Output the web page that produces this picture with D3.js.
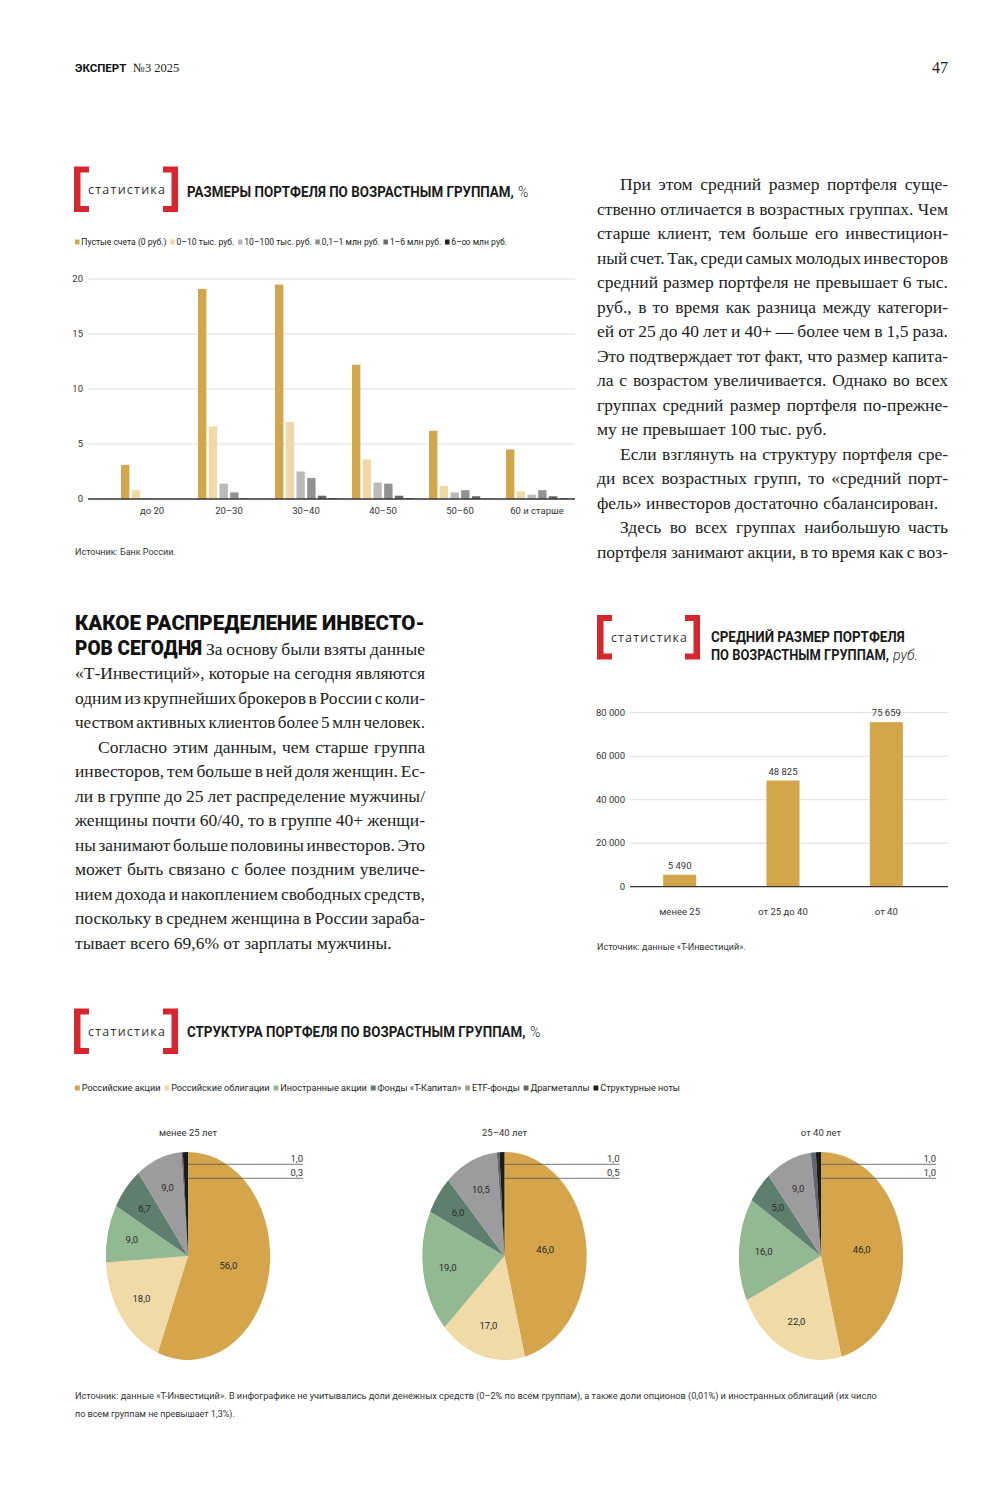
<!DOCTYPE html>
<html><head><meta charset="utf-8">
<script src="https://cdn.jsdelivr.net/npm/d3@7"></script>
<style>
body{margin:0;background:#fff;}
svg{display:block;background:#fff;}
</style></head><body>
<svg id="page" width="1000" height="1500"></svg>
<script>
// ---------- DATA ----------
const ageGroups = ["до 20","20–30","30–40","40–50","50–60","60 и старше"];
const sizeSeries = ["Пустые счета (0 руб.)","0–10 тыс. руб.","10–100 тыс. руб.","0,1–1 млн руб.","1–6 млн руб.","6–∞ млн руб."];
const emptyAccounts = [3.1,19.1,19.5,12.2,6.2,4.5];
const upTo10k      = [0.8,6.6,7.0,3.6,1.2,0.7];
const from10kTo100k= [0.1,1.4,2.5,1.5,0.6,0.4];
const from100kTo1m = [0.0,0.6,1.9,1.4,0.8,0.8];
const from1mTo6m   = [0.0,0.05,0.3,0.3,0.25,0.25];
const over6m       = [0.0,0.0,0.05,0.05,0.02,0.06];
const sizeTicks = [0,5,10,15,20];

const avgGroups = ["менее 25","от 25 до 40","от 40"];
const avgValues = [5490,48825,75659];
const avgTicks = [0,20000,40000,60000,80000];

const assetClasses = ["Российские акции","Российские облигации","Иностранные акции","Фонды «Т-Капитал»","ETF-фонды","Драгметаллы","Структурные ноты"];
const pieGroups = ["менее 25 лет","25–40 лет","от 40 лет"];
const structUnder25 = [56.0,18.0,9.0,6.7,9.0,0.3,1.0];
const struct25to40  = [46.0,17.0,19.0,6.0,10.5,0.5,1.0];
const structOver40  = [46.0,22.0,16.0,5.0,9.0,1.0,1.0];

// ---------- STYLE ----------
const SANS = "Roboto, 'Open Sans', 'Noto Sans', sans-serif";
const SERIF = "'Liberation Serif', 'DejaVu Serif', serif";
const RED = "#D8262E";
const INK = "#222";
const seriesColors = ["#D4A64B","#EFD9A6","#BBBBBB","#929292","#686868","#222222"];
const pieColors = ["#D4A54A","#EFDAA8","#93B993","#5F7E6F","#9C9C9E","#62666A","#1C1C1C"];

const svg = d3.select("#page");
const fmtNum = d3.formatLocale({decimal:",", thousands:"\u00A0", grouping:[3], currency:["",""]}).format(",.0f");
const fmtPct = v => d3.format(".1f")(v).replace(".", ",");

// ---------- HELPERS ----------
function sans(sel, size, weight, fill){
  return sel.attr("font-family", SANS).attr("font-size", size).attr("font-weight", weight||400).attr("fill", fill||INK);
}
// place a text at (x,y) and squeeze/stretch it horizontally to width W
function fit(sel, x, y, W){
  const w = sel.node().getComputedTextLength();
  sel.attr("x", 0).attr("y", 0).attr("transform", `translate(${x},${y}) scale(${W / w},1)`);
  return sel;
}
function bracket(x0, y0, w, h){
  const g = svg.append("g");
  const t = 6.5, arm = 15, armH = 6;
  g.append("path").attr("fill", RED)
    .attr("d", `M${x0},${y0} h${arm} v${armH} h${-(arm-t)} v${h-2*armH} h${arm-t} v${armH} h${-arm} Z`);
  const x1 = x0 + w;
  g.append("path").attr("fill", RED)
    .attr("d", `M${x1},${y0} h${-arm} v${armH} h${arm-t} v${h-2*armH} h${-(arm-t)} v${armH} h${arm} Z`);
  g.append("text").attr("x", x0 + 14).attr("y", y0 + h/2 + 4.5)
    .attr("font-family", "'Open Sans', Roboto, sans-serif").attr("font-size", 12.5)
    .attr("fill", "#333").attr("textLength", w - 27).attr("lengthAdjust", "spacing")
    .text("статистика");
}
function title(str, tail, x, y, W, tailStyle){
  fit(sans(svg.append("text"), 14.5, 700, "#1a1a1a").text(str), x, y, W);
  if (tail){
    const t = sans(svg.append("text"), 14, 300, "#1a1a1a").attr("x", x + W + 4).attr("y", y).text(tail);
    if (tailStyle === "italic") t.attr("font-style", "italic");
  }
}
function legend(names, colors, x, y, targetW){
  const lg = svg.append("g");
  let cx = 0;
  names.forEach((n,i)=>{
    lg.append("rect").attr("x", cx).attr("y", -5.5).attr("width", 5).attr("height", 5).attr("fill", colors[i]);
    const t = sans(lg.append("text"), 9.5, 400, "#222").attr("x", cx + 7).attr("y", 0).text(n);
    cx += 7 + t.node().getComputedTextLength() + 4;
  });
  const w = cx - 4;
  lg.attr("transform", `translate(${x},${y}) scale(${targetW / w},1)`);
}
function line(g, str, x, y, W, justify, fs){
  const words = str.split(" ");
  const t = g.append("text").attr("transform", `translate(${x},${y})`)
    .attr("font-family", SERIF).attr("font-size", fs).attr("fill", INK);
  const spans = words.map(w => t.append("tspan").text(w));
  const widths = spans.map(s => s.node().getComputedTextLength());
  const sum = d3.sum(widths);
  const sp = fs * 0.25;
  let gap = sp, k = 1;
  if (justify && words.length > 1){
    gap = (W - sum) / (words.length - 1);
    if (gap < sp * 0.6){ gap = sp * 0.6; k = W / (sum + gap * (words.length - 1)); }
  }
  let cx = 0;
  spans.forEach((s,i)=>{ s.attr("x", cx).attr("y", 0); cx += widths[i] + gap; });
  if (k !== 1) t.attr("transform", `translate(${x},${y}) scale(${k},1)`);
}
function column(paragraphs, x, y0, W, lh, fs, startIndex){
  const g = svg.append("g");
  let i = startIndex || 0;
  paragraphs.forEach(p=>{
    p.lines.forEach((s, j)=>{
      const indent = (j === 0 && p.indent) ? 23 : 0;
      const isLast = j === p.lines.length - 1;
      const justify = !(isLast && !p.cont);
      line(g, s, x + indent, y0 + i * lh, W - indent, justify, fs);
      i++;
    });
  });
}

// ---------- HEADER ----------
sans(svg.append("text"), 11.5, 700, "#111").attr("x", 75).attr("y", 72).text("ЭКСПЕРТ");
svg.append("text").attr("x", 133).attr("y", 72).attr("font-family", SERIF).attr("font-size", 12.5).attr("fill", "#222").text("№3 2025");
svg.append("text").attr("x", 948).attr("y", 73).attr("text-anchor", "end").attr("font-family", SERIF).attr("font-size", 16).attr("fill", "#222").text("47");

// ---------- CHART 1 ----------
bracket(74, 166.5, 104, 45.5);
title("РАЗМЕРЫ ПОРТФЕЛЯ ПО ВОЗРАСТНЫМ ГРУППАМ,", "%", 187, 197, 327);
legend(sizeSeries, seriesColors, 75, 245, 432);
{
  const g = svg.append("g");
  const y = d3.scaleLinear().domain([0, 20]).range([499, 279]);
  const x0 = d3.scaleBand().domain(ageGroups).range([106, 583]).paddingInner(0.195).paddingOuter(0.195);
  const x1 = d3.scaleBand().domain(sizeSeries).range([0, x0.bandwidth()]).paddingInner(0.22);
  sizeTicks.filter(d => d > 0).forEach(d=>{
    g.append("line").attr("x1", 88).attr("x2", 575).attr("y1", y(d)).attr("y2", y(d)).attr("stroke", "#d6d6d6").attr("stroke-width", 0.8);
  });
  sizeTicks.forEach(d=>{
    sans(g.append("text"), 9.5, 400, "#333").attr("x", 83).attr("y", y(d) + 3).attr("text-anchor", "end").text(d);
  });
  const seriesData = [emptyAccounts, upTo10k, from10kTo100k, from100kTo1m, from1mTo6m, over6m];
  ageGroups.forEach((grp, gi)=>{
    seriesData.forEach((arr, si)=>{
      const v = arr[gi];
      if (v <= 0) return;
      g.append("rect").attr("x", x0(grp) + x1(sizeSeries[si])).attr("width", x1.bandwidth())
        .attr("y", y(v)).attr("height", y(0) - y(v)).attr("fill", seriesColors[si]);
    });
    sans(g.append("text"), 9.5, 400, "#333").attr("x", x0(grp) + x0.bandwidth()/2).attr("y", 514).attr("text-anchor", "middle").text(grp);
  });
  g.append("line").attr("x1", 88).attr("x2", 575).attr("y1", y(0)).attr("y2", y(0)).attr("stroke", "#333").attr("stroke-width", 1.3);
  sans(g.append("text"), 9, 400, "#333").attr("x", 75).attr("y", 555).text("Источник: Банк России.");
}

// ---------- RIGHT TEXT COLUMN ----------
column([
  {indent:true, lines:[
    "При этом средний размер портфеля суще-",
    "ственно отличается в возрастных группах. Чем",
    "старше клиент, тем больше его инвестицион-",
    "ный счет. Так, среди самых молодых инвесторов",
    "средний размер портфеля не превышает 6 тыс.",
    "руб., в то время как разница между категори-",
    "ей от 25 до 40 лет и 40+ — более чем в 1,5 раза.",
    "Это подтверждает тот факт, что размер капита-",
    "ла с возрастом увеличивается. Однако во всех",
    "группах средний размер портфеля по-прежне-",
    "му не превышает 100 тыс. руб."]},
  {indent:true, lines:[
    "Если взглянуть на структуру портфеля сре-",
    "ди всех возрастных групп, то «средний порт-",
    "фель» инвесторов достаточно сбалансирован."]},
  {indent:true, cont:true, lines:[
    "Здесь во всех группах наибольшую часть",
    "портфеля занимают акции, в то время как с воз-"]}
], 597, 190, 351, 24.5, 17.5);

// ---------- LEFT TEXT COLUMN ----------
fit(sans(svg.append("text"), 19.5, 900, "#111").text("КАКОЕ РАСПРЕДЕЛЕНИЕ ИНВЕСТО-"), 75, 630, 350);
fit(sans(svg.append("text"), 19.5, 900, "#111").text("РОВ СЕГОДНЯ"), 75, 654.5, 127);
column([{lines:["За основу были взяты данные"], cont:true}], 206, 654.5, 219, 24.5, 17.5);
column([
  {lines:[
    "«Т-Инвестиций», которые на сегодня являются",
    "одним из крупнейших брокеров в России с коли-",
    "чеством активных клиентов более 5 млн человек."], cont:true},
  {indent:true, lines:[
    "Согласно этим данным, чем старше группа",
    "инвесторов, тем больше в ней доля женщин. Ес-",
    "ли в группе до 25 лет распределение мужчины/",
    "женщины почти 60/40, то в группе 40+ женщи-",
    "ны занимают больше половины инвесторов. Это",
    "может быть связано с более поздним увеличе-",
    "нием дохода и накоплением свободных средств,",
    "поскольку в среднем женщина в России зараба-",
    "тывает всего 69,6% от зарплаты мужчины."]}
], 75, 654.5, 350, 24.5, 17.5, 1);

// ---------- CHART 2 ----------
bracket(597, 615, 103, 44.5);
title("СРЕДНИЙ РАЗМЕР ПОРТФЕЛЯ", null, 711, 642, 194);
title("ПО ВОЗРАСТНЫМ ГРУППАМ,", "руб.", 711, 659.5, 178, "italic");
{
  const g = svg.append("g");
  const y = d3.scaleLinear().domain([0, 80000]).range([886.7, 712.7]);
  const x = d3.scaleBand().domain(avgGroups).range([628, 938]).paddingInner(0.68).paddingOuter(0.34);
  avgTicks.filter(d => d > 0).forEach(d=>{
    g.append("line").attr("x1", 630).attr("x2", 948).attr("y1", y(d)).attr("y2", y(d)).attr("stroke", "#d6d6d6").attr("stroke-width", 0.8);
  });
  avgTicks.forEach(d=>{
    sans(g.append("text"), 9.5, 400, "#333").attr("x", 625).attr("y", y(d) + 3).attr("text-anchor", "end").text(fmtNum(d));
  });
  avgGroups.forEach((grp, i)=>{
    const v = avgValues[i];
    g.append("rect").attr("x", x(grp)).attr("width", x.bandwidth()).attr("y", y(v)).attr("height", y(0) - y(v)).attr("fill", seriesColors[0]);
    sans(g.append("text"), 9.5, 400, "#333").attr("x", x(grp) + x.bandwidth()/2).attr("y", y(v) - 6).attr("text-anchor", "middle").text(fmtNum(v));
    sans(g.append("text"), 9.5, 400, "#333").attr("x", x(grp) + x.bandwidth()/2).attr("y", 915).attr("text-anchor", "middle").text(grp);
  });
  g.append("line").attr("x1", 630).attr("x2", 948).attr("y1", y(0)).attr("y2", y(0)).attr("stroke", "#333").attr("stroke-width", 1.3);
  sans(g.append("text"), 9, 400, "#333").attr("x", 597).attr("y", 950).text("Источник: данные «Т-Инвестиций».");
}

// ---------- CHART 3 ----------
bracket(74, 1008.5, 104, 45.5);
title("СТРУКТУРА ПОРТФЕЛЯ ПО ВОЗРАСТНЫМ ГРУППАМ,", "%", 187, 1037, 339);
legend(assetClasses, pieColors, 75, 1091, 605);
{
  const R = 104, sx = 0.79, cy = 1256;
  const xc = d3.scalePoint().domain(pieGroups).range([188, 821]);
  const pie = d3.pie().sort(null).value(d => d);
  const arc = d3.arc().innerRadius(0).outerRadius(R);
  const datasets = [structUnder25, struct25to40, structOver40];
  pieGroups.forEach((grp, gi)=>{
    const cx = xc(grp);
    const g = svg.append("g");
    const arcs = pie(datasets[gi]);
    g.append("g").attr("transform", `translate(${cx},${cy}) scale(${sx},1)`)
      .selectAll("path").data(arcs).join("path")
      .attr("d", arc).attr("fill", (d,i) => pieColors[i]);
    sans(g.append("text"), 9.5, 400, "#333").attr("x", cx).attr("y", 1136).attr("text-anchor", "middle").text(grp);
    arcs.forEach((d, i)=>{
      if (i >= 5) return;
      const mid = (d.startAngle + d.endAngle) / 2;
      const r = (i === 0 ? 0.5 : 0.7) * R;
      sans(g.append("text"), 9.5, 400, "#2a2a2a")
        .attr("x", cx + sx * r * Math.sin(mid)).attr("y", cy - r * Math.cos(mid) + 3.2)
        .attr("text-anchor", "middle").text(fmtPct(d.data));
    });
    [6, 5].forEach((idx, k)=>{
      const ly = cy - R + 12.3 + k * 14;
      g.append("line").attr("x1", cx).attr("x2", cx + 115).attr("y1", ly).attr("y2", ly).attr("stroke", "#555").attr("stroke-width", 0.8);
      sans(g.append("text"), 9.5, 400, "#333").attr("x", cx + 115).attr("y", ly - 2).attr("text-anchor", "end").text(fmtPct(arcs[idx].data));
    });
  });
  fit(sans(svg.append("text"), 9, 400, "#333")
    .text("Источник: данные «Т-Инвестиций». В инфографике не учитывались доли денежных средств (0–2% по всем группам), а также доли опционов (0,01%) и иностранных облигаций (их число"), 75, 1399, 803);
  fit(sans(svg.append("text"), 9, 400, "#333").text("по всем группам не превышает 1,3%)."), 75, 1417, 160);
}
</script>
</body></html>
